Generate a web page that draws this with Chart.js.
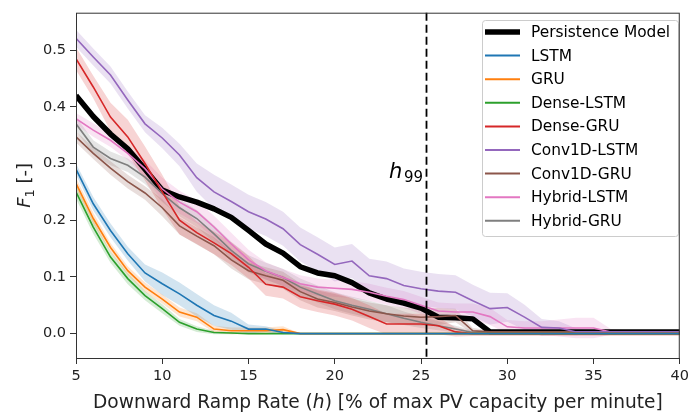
<!DOCTYPE html>
<html>
<head>
<meta charset="utf-8">
<script src="https://cdn.jsdelivr.net/npm/chart.js@4"></script>
<style>
  html, body { margin: 0; padding: 0; background: #fff; }
  #wrap { width: 693px; height: 413px; }
</style>
</head>
<body>
<div id="wrap"><canvas id="chartF1" width="693" height="413"></canvas></div>
<script>
// ramp rate h [% of max PV capacity per minute]
const hs = [5, 6, 7, 8, 9, 10, 11, 12, 13, 14, 15, 16, 17, 18, 19, 20, 21, 22, 23, 24, 25, 26, 27, 28, 29, 30, 31, 32, 33, 34, 35, 36, 37, 38, 39, 40];
const xTicks = [5, 10, 15, 20, 25, 30, 35, 40];
const yTicks = [0.0, 0.1, 0.2, 0.3, 0.4, 0.5];
const h99 = 25.3;

const persistence = [0.42, 0.383, 0.352, 0.326, 0.29, 0.253, 0.241, 0.232, 0.22, 0.205, 0.182, 0.158, 0.142, 0.118, 0.107, 0.102, 0.09, 0.072, 0.061, 0.054, 0.045, 0.029, 0.028, 0.026, 0.003, 0.003, 0.003, 0.003, 0.003, 0.003, 0.003, 0.003, 0.003, 0.003, 0.003, 0.003];
const lstm = [0.29, 0.229, 0.182, 0.141, 0.107, 0.088, 0.07, 0.05, 0.032, 0.022, 0.008, 0.008, 0.002, 0, 0, 0, 0, 0, 0, 0, 0, 0, 0, 0, 0, 0, 0, 0, 0, 0, 0, 0, 0, 0, 0, 0];
const gru = [0.265, 0.203, 0.152, 0.111, 0.082, 0.061, 0.038, 0.029, 0.008, 0.005, 0.005, 0.005, 0.007, 0, 0, 0, 0, 0, 0, 0, 0, 0, 0, 0, 0, 0, 0, 0, 0, 0, 0, 0, 0, 0, 0, 0];
const denseLstm = [0.25, 0.188, 0.135, 0.097, 0.067, 0.044, 0.02, 0.008, 0.002, 0.001, 0, 0, 0, 0, 0, 0, 0, 0, 0, 0, 0, 0, 0, 0, 0, 0, 0, 0, 0, 0, 0, 0, 0, 0, 0, 0];
const denseGru = [0.485, 0.435, 0.382, 0.347, 0.3, 0.25, 0.2, 0.178, 0.16, 0.141, 0.117, 0.087, 0.082, 0.065, 0.058, 0.052, 0.043, 0.03, 0.017, 0.017, 0.017, 0.014, 0.003, 0, 0, 0, 0, 0, 0, 0, 0, 0, 0, 0, 0, 0];
const conv1dLstm = [0.521, 0.488, 0.456, 0.412, 0.37, 0.345, 0.315, 0.275, 0.25, 0.233, 0.215, 0.202, 0.185, 0.157, 0.14, 0.122, 0.128, 0.102, 0.097, 0.085, 0.079, 0.075, 0.073, 0.058, 0.044, 0.046, 0.029, 0.011, 0.01, 0.003, 0.003, 0.003, 0.003, 0.003, 0.003, 0.003];
const conv1dGru = [0.347, 0.318, 0.292, 0.268, 0.248, 0.222, 0.19, 0.172, 0.155, 0.13, 0.111, 0.102, 0.094, 0.074, 0.061, 0.055, 0.047, 0.04, 0.035, 0.031, 0.029, 0.03, 0.032, 0.005, 0.003, 0.003, 0.003, 0.003, 0.003, 0.003, 0.003, 0.003, 0.003, 0.003, 0.003, 0.003];
const hybridLstm = [0.379, 0.359, 0.341, 0.318, 0.291, 0.255, 0.232, 0.215, 0.188, 0.158, 0.13, 0.111, 0.099, 0.088, 0.082, 0.08, 0.078, 0.073, 0.066, 0.06, 0.05, 0.04, 0.038, 0.038, 0.03, 0.012, 0.01, 0.01, 0.01, 0.01, 0.01, 0.003, 0.003, 0.003, 0.003, 0.003];
const hybridGru = [0.37, 0.329, 0.309, 0.297, 0.276, 0.247, 0.222, 0.203, 0.176, 0.147, 0.123, 0.11, 0.099, 0.082, 0.07, 0.058, 0.05, 0.043, 0.035, 0.027, 0.02, 0.014, 0.008, 0.002, 0.003, 0.003, 0.003, 0.003, 0.003, 0.003, 0.003, 0.003, 0.003, 0.003, 0.003, 0.003];

// half-width of the shaded spread round each model
const lstmSd = [0.01, 0.012, 0.012, 0.012, 0.015, 0.02, 0.02, 0.02, 0.018, 0.015, 0.008, 0.005, 0.003, 0, 0, 0, 0, 0, 0, 0, 0, 0, 0, 0, 0, 0, 0, 0, 0, 0, 0, 0, 0, 0, 0, 0];
const gruSd = [0.01, 0.01, 0.008, 0.008, 0.008, 0.008, 0.008, 0.007, 0.006, 0.006, 0.006, 0.006, 0.006, 0, 0, 0, 0, 0, 0, 0, 0, 0, 0, 0, 0, 0, 0, 0, 0, 0, 0, 0, 0, 0, 0, 0];
const denseLstmSd = [0.012, 0.012, 0.01, 0.01, 0.008, 0.008, 0.006, 0.005, 0.003, 0.002, 0, 0, 0, 0, 0, 0, 0, 0, 0, 0, 0, 0, 0, 0, 0, 0, 0, 0, 0, 0, 0, 0, 0, 0, 0, 0];
const denseGruSd = [0.02, 0.02, 0.025, 0.03, 0.03, 0.03, 0.025, 0.02, 0.02, 0.02, 0.02, 0.02, 0.02, 0.02, 0.02, 0.02, 0.02, 0.02, 0.018, 0.018, 0.018, 0.015, 0.008, 0.004, 0.004, 0.004, 0.004, 0.004, 0.004, 0.004, 0.004, 0.004, 0.004, 0.004, 0.004, 0.004];
const conv1dLstmSd = [0.015, 0.015, 0.015, 0.015, 0.015, 0.018, 0.02, 0.025, 0.03, 0.03, 0.03, 0.03, 0.03, 0.03, 0.03, 0.03, 0.03, 0.03, 0.03, 0.03, 0.03, 0.03, 0.03, 0.028, 0.028, 0.025, 0.022, 0.015, 0.012, 0.006, 0.003, 0.003, 0.003, 0.003, 0.003, 0.003];
const conv1dGruSd = [0.01, 0.01, 0.012, 0.012, 0.012, 0.015, 0.015, 0.015, 0.015, 0.015, 0.015, 0.015, 0.015, 0.015, 0.015, 0.015, 0.015, 0.015, 0.015, 0.015, 0.015, 0.015, 0.012, 0.005, 0.003, 0.003, 0.003, 0.003, 0.003, 0.003, 0.003, 0.003, 0.003, 0.003, 0.003, 0.003];
const hybridLstmSd = [0.01, 0.012, 0.012, 0.012, 0.015, 0.02, 0.02, 0.02, 0.02, 0.02, 0.018, 0.015, 0.015, 0.015, 0.015, 0.015, 0.015, 0.015, 0.015, 0.015, 0.015, 0.015, 0.015, 0.015, 0.015, 0.012, 0.012, 0.012, 0.015, 0.018, 0.018, 0.005, 0.003, 0.003, 0.003, 0.003];
const hybridGruSd = [0.012, 0.012, 0.012, 0.012, 0.012, 0.015, 0.015, 0.015, 0.015, 0.015, 0.015, 0.015, 0.015, 0.015, 0.015, 0.015, 0.015, 0.015, 0.015, 0.012, 0.01, 0.008, 0.006, 0.004, 0.003, 0.003, 0.003, 0.003, 0.003, 0.003, 0.003, 0.003, 0.003, 0.003, 0.003, 0.003];

const series = [
  { label: 'Persistence Model', data: persistence, sd: null, color: '#000000', width: 5.5 },
  { label: 'LSTM', data: lstm, sd: lstmSd, color: '#1f77b4', width: 1.6 },
  { label: 'GRU', data: gru, sd: gruSd, color: '#ff7f0e', width: 1.6 },
  { label: 'Dense-LSTM', data: denseLstm, sd: denseLstmSd, color: '#2ca02c', width: 1.6 },
  { label: 'Dense-GRU', data: denseGru, sd: denseGruSd, color: '#d62728', width: 1.6 },
  { label: 'Conv1D-LSTM', data: conv1dLstm, sd: conv1dLstmSd, color: '#9467bd', width: 1.6 },
  { label: 'Conv1D-GRU', data: conv1dGru, sd: conv1dGruSd, color: '#8c564b', width: 1.6 },
  { label: 'Hybrid-LSTM', data: hybridLstm, sd: hybridLstmSd, color: '#e377c2', width: 1.6 },
  { label: 'Hybrid-GRU', data: hybridGru, sd: hybridGruSd, color: '#7f7f7f', width: 1.6 }
];

function hexA(hex, a) {
  const n = parseInt(hex.slice(1), 16);
  return `rgba(${(n >> 16) & 255},${(n >> 8) & 255},${n & 255},${a})`;
}
const pts = arr => arr.map((v, i) => ({ x: hs[i], y: v }));

// lines first in the array (Chart.js paints index 0 last = on top), black under the colours
const datasets = [];
series.slice(1).forEach(s => datasets.push({
  label: s.label, data: pts(s.data), borderColor: s.color, borderWidth: s.width,
  pointRadius: 0, fill: false, tension: 0
}));
datasets.push({
  label: series[0].label, data: pts(series[0].data), borderColor: series[0].color,
  borderWidth: series[0].width, pointRadius: 0, fill: false, tension: 0, borderJoinStyle: 'round'
});
series.slice(1).forEach(s => {
  datasets.push({
    label: s.label + ' hi', data: pts(s.data.map((v, i) => v + s.sd[i])),
    borderWidth: 0, borderColor: 'rgba(0,0,0,0)', pointRadius: 0,
    backgroundColor: hexA(s.color, 0.2), fill: '+1', tension: 0
  });
  datasets.push({
    label: s.label + ' lo', data: pts(s.data.map((v, i) => v - s.sd[i])),
    borderWidth: 0, borderColor: 'rgba(0,0,0,0)', pointRadius: 0, fill: false, tension: 0
  });
});

const FONT = '"DejaVu Sans", sans-serif';

const decor = {
  id: 'decor',
  afterDatasetsDraw(chart) {
    const { ctx, chartArea: a, scales } = chart;
    ctx.save();
    // h99 marker
    const hx = Math.round(scales.x.getPixelForValue(h99)) + 0.5;
    ctx.strokeStyle = '#000';
    ctx.lineWidth = 1.8;
    ctx.setLineDash([8, 4]);
    ctx.beginPath();
    ctx.moveTo(hx, a.top);
    ctx.lineTo(hx, a.bottom);
    ctx.stroke();
    ctx.setLineDash([]);
    ctx.fillStyle = '#000';
    ctx.textBaseline = 'alphabetic';
    ctx.textAlign = 'left';
    ctx.font = `italic 21px ${FONT}`;
    ctx.fillText('h', 389, 178);
    ctx.font = `15px ${FONT}`;
    ctx.fillText('99', 404, 182);

    // legend
    const lx = 482, ly = 20, lw = 196, lh = 216;
    ctx.fillStyle = 'rgba(255,255,255,0.85)';
    ctx.strokeStyle = '#cccccc';
    ctx.lineWidth = 1;
    ctx.beginPath();
    ctx.roundRect(lx + 0.5, ly + 0.5, lw, lh, 3);
    ctx.fill();
    ctx.stroke();
    ctx.font = `15.4px ${FONT}`;
    ctx.textBaseline = 'middle';
    series.forEach((s, i) => {
      const y = 32 + i * 23.6;
      ctx.strokeStyle = s.color;
      ctx.lineWidth = s.width > 2 ? 5.5 : 2;
      ctx.beginPath();
      ctx.moveTo(485, y);
      ctx.lineTo(520, y);
      ctx.stroke();
      ctx.fillStyle = '#000';
      ctx.fillText(s.label, 531, y + 1);
    });

    // frame
    ctx.strokeStyle = '#333';
    ctx.lineWidth = 1;
    ctx.strokeRect(a.left + 0.5, a.top + 0.5, a.right - a.left - 1, a.bottom - a.top);

    // x title with italic h
    ctx.fillStyle = '#222';
    ctx.textBaseline = 'alphabetic';
    const parts = [['Downward Ramp Rate (', ''], ['h', 'italic '], [') [% of max PV capacity per minute]', '']];
    let total = 0;
    parts.forEach(p => { ctx.font = `${p[1]}18.6px ${FONT}`; total += ctx.measureText(p[0]).width; });
    let tx = (a.left + a.right) / 2 - total / 2;
    parts.forEach(p => {
      ctx.font = `${p[1]}18.6px ${FONT}`;
      ctx.fillText(p[0], tx, 408);
      tx += ctx.measureText(p[0]).width;
    });

    // y title F1 [-]
    ctx.translate(30, (a.top + a.bottom) / 2);
    ctx.rotate(-Math.PI / 2);
    ctx.font = `italic 18px ${FONT}`;
    const wF = ctx.measureText('F').width;
    ctx.font = `13px ${FONT}`;
    const w1 = ctx.measureText('1').width;
    ctx.font = `18px ${FONT}`;
    const wR = ctx.measureText(' [-]').width;
    let yx = -(wF + w1 + wR) / 2;
    ctx.font = `italic 18px ${FONT}`;
    ctx.fillText('F', yx, 0);
    yx += wF;
    ctx.font = `13px ${FONT}`;
    ctx.fillText('1', yx, 4);
    yx += w1;
    ctx.font = `18px ${FONT}`;
    ctx.fillText(' [-]', yx, 0);
    ctx.restore();
  }
};

new Chart(document.getElementById('chartF1').getContext('2d'), {
  type: 'line',
  data: { datasets },
  options: {
    responsive: false,
    animation: false,
    events: [],
    layout: { padding: { top: 12, right: 7, left: 0, bottom: 0 } },
    scales: {
      x: {
        type: 'linear', min: 5, max: 40,
        afterBuildTicks: s => { s.ticks = xTicks.map(v => ({ value: v })); },
        afterFit: s => { s.height = 55; },
        grid: { drawOnChartArea: false, tickLength: 6, color: '#333' },
        border: { display: false },
        ticks: { color: '#222', padding: 4, maxRotation: 0, font: { family: FONT, size: 14.5 } }
      },
      y: {
        type: 'linear', min: -0.043, max: 0.566,
        afterBuildTicks: s => { s.ticks = yTicks.map(v => ({ value: v })); },
        afterFit: s => { s.width = 76; },
        grid: { drawOnChartArea: false, tickLength: 6, color: '#333' },
        border: { display: false },
        ticks: { color: '#222', padding: 4, callback: v => v.toFixed(1), font: { family: FONT, size: 14.5 } }
      }
    },
    plugins: {
      legend: { display: false },
      tooltip: { enabled: false },
      filler: { propagate: false }
    }
  },
  plugins: [decor]
});
</script>
</body>
</html>
